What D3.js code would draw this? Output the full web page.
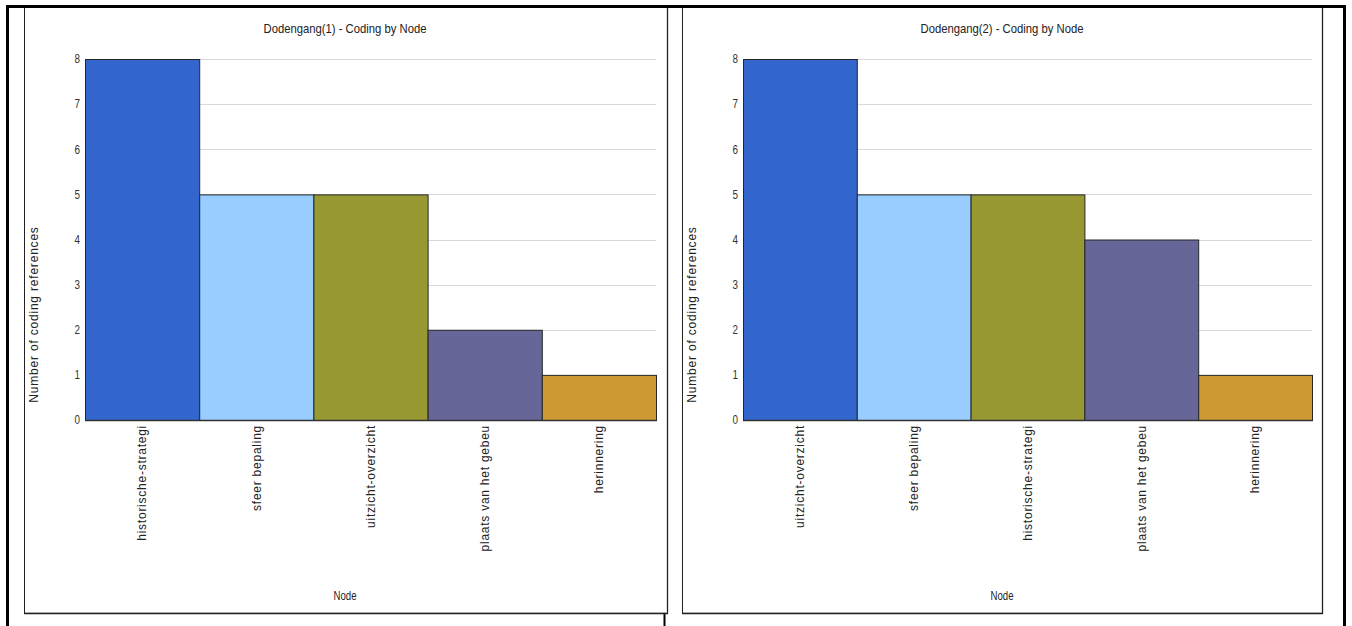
<!DOCTYPE html>
<html><head><meta charset="utf-8">
<script src="https://cdn.jsdelivr.net/npm/d3@7"></script>
<style>
body{margin:0;background:#fff;}
svg{display:block;font-family:"Liberation Sans",Arial,sans-serif;}
</style></head><body>
<svg id="c" width="1352" height="626"></svg>
<script>
const titles = ["Dodengang(1) - Coding by Node", "Dodengang(2) - Coding by Node"];
const categories1 = ["historische-strategi", "sfeer bepaling", "uitzicht-overzicht", "plaats van het gebeu", "herinnering"];
const values1 = [8, 5, 5, 2, 1];
const categories2 = ["uitzicht-overzicht", "sfeer bepaling", "historische-strategi", "plaats van het gebeu", "herinnering"];
const values2 = [8, 5, 5, 4, 1];
const yTicks = [0, 1, 2, 3, 4, 5, 6, 7, 8];
const colors = ["#3366CC", "#99CCFF", "#999933", "#666699", "#CC9933"];
const yTitle = "Number of coding references";
const xTitle = "Node";

const svg = d3.select("#c");

// outer table frame
svg.append("line").attr("x1",6).attr("x2",1346).attr("y1",6.5).attr("y2",6.5).attr("stroke","#000").attr("stroke-width",3);
svg.append("line").attr("x1",7.5).attr("x2",7.5).attr("y1",5).attr("y2",626).attr("stroke","#000").attr("stroke-width",3);
svg.append("line").attr("x1",1344.5).attr("x2",1344.5).attr("y1",5).attr("y2",626).attr("stroke","#000").attr("stroke-width",3);
svg.append("line").attr("x1",664.5).attr("x2",664.5).attr("y1",613).attr("y2",626).attr("stroke","#000").attr("stroke-width",2);

const panels = [
  {title: titles[0], cats: categories1, vals: values1, box:[24,8,667,613], plot:[85,59,656,420], titleX:345, yTitleX:38},
  {title: titles[1], cats: categories2, vals: values2, box:[682,8,1322,613], plot:[743,59,1312,420], titleX:1002, yTitleX:696}
];

panels.forEach(p => {
  const g = svg.append("g");
  const [bx0,by0,bx1,by1] = p.box;
  // panel frame
  g.append("line").attr("x1",bx0+0.5).attr("x2",bx0+0.5).attr("y1",by0).attr("y2",by1).attr("stroke","#222").attr("stroke-width",1);
  g.append("line").attr("x1",bx1+0.5).attr("x2",bx1+0.5).attr("y1",by0).attr("y2",by1+1).attr("stroke","#222").attr("stroke-width",1.3);
  g.append("line").attr("x1",bx0).attr("x2",bx1+1).attr("y1",by1+0.5).attr("y2",by1+0.5).attr("stroke","#222").attr("stroke-width",1.3);
  g.append("line").attr("x1",bx0+1).attr("x2",bx1).attr("y1",by1-0.5).attr("y2",by1-0.5).attr("stroke","#aaa").attr("stroke-width",1);

  const [px0,py0,px1,py1] = p.plot;
  const x = d3.scaleBand().domain(p.cats).range([px0,px1]).padding(0);
  const y = d3.scaleLinear().domain([0,8]).range([py1,py0]);

  // gridlines
  g.append("g").selectAll("line").data(yTicks.filter(t=>t>0)).join("line")
    .attr("x1",px0).attr("x2",px1)
    .attr("y1",d=>Math.round(y(d))+0.5).attr("y2",d=>Math.round(y(d))+0.5)
    .attr("stroke","#d9d9d9").attr("stroke-width",1);

  // y axis labels
  const ya = d3.axisLeft(y).tickValues(yTicks).tickSize(0).tickPadding(5);
  const yg = g.append("g").attr("transform",`translate(${px0},0)`).call(ya);
  yg.select(".domain").remove();
  yg.selectAll("text").attr("font-size",12).attr("fill","#333")
    .attr("font-family","'Liberation Sans',Arial,sans-serif")
    .attr("textLength",5.5).attr("lengthAdjust","spacingAndGlyphs");

  // bars
  g.append("g").selectAll("rect").data(p.vals).join("rect")
    .attr("x",(d,i)=>x(p.cats[i])+0.5)
    .attr("y",d=>y(d)+0.5)
    .attr("width",x.bandwidth())
    .attr("height",d=>y(0)-y(d))
    .attr("fill",(d,i)=>colors[i])
    .attr("stroke","#262626").attr("stroke-width",1);

  // baseline
  g.append("line").attr("x1",px0).attr("x2",px1+1).attr("y1",py1+0.5).attr("y2",py1+0.5).attr("stroke","#333").attr("stroke-width",1.5);

  // x labels
  const xa = d3.axisBottom(x).tickSize(0).tickPadding(0);
  const xg = g.append("g").attr("transform",`translate(0,${py1})`).call(xa);
  xg.select(".domain").remove();
  xg.selectAll("text")
    .attr("transform","rotate(-90)")
    .attr("text-anchor","end")
    .attr("x",-5).attr("y",0).attr("dy","0.35em")
    .attr("font-size",12).attr("letter-spacing","0.75px").attr("fill","#222")
    .attr("font-family","'Liberation Sans',Arial,sans-serif");

  // title
  g.append("text").attr("x",p.titleX).attr("y",33).attr("text-anchor","middle")
    .attr("font-size",13).attr("fill","#222")
    .attr("textLength",163).attr("lengthAdjust","spacingAndGlyphs").text(p.title);
  // y title
  g.append("text").attr("transform",`translate(${p.yTitleX},${(py0+py1)/2+75}) rotate(-90)`)
    .attr("text-anchor","middle").attr("font-size",12).attr("letter-spacing","0.8px").attr("fill","#222")
    .attr("font-family","'Liberation Sans',Arial,sans-serif").text(yTitle);
  // x title
  g.append("text").attr("x",p.titleX).attr("y",600).attr("text-anchor","middle")
    .attr("font-size",12).attr("fill","#222")
    .attr("textLength",23).attr("lengthAdjust","spacingAndGlyphs").text(xTitle);
});
</script>
</body></html>
